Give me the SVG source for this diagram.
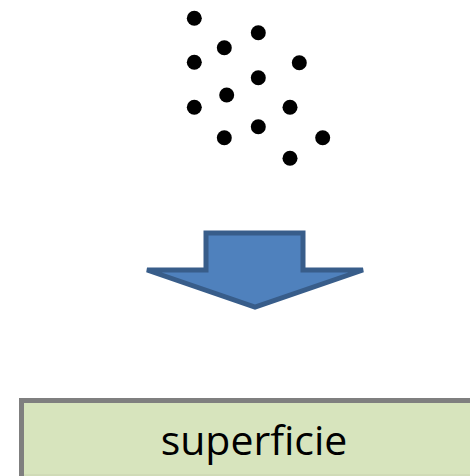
<svg xmlns="http://www.w3.org/2000/svg" width="470" height="476" viewBox="0 0 470 476">
  <style>
    .particle { fill: #000000; }
    .arrow { fill: #4F81BD; stroke: #385D8A; stroke-width: 5; stroke-linejoin: miter; }
    .surface { fill: #D7E4BD; stroke: #7F7F7F; stroke-width: 5; }
    .label { font-family: "Open Sans", "Liberation Sans", sans-serif; font-size: 41px; fill: #000000; }
  </style>
  <rect width="470" height="476" fill="#FFFFFF"/>

  <!-- scattered particles -->
  <g id="particles">
    <circle class="particle" cx="194.3" cy="18.3" r="7.5"/>
    <circle class="particle" cx="258.3" cy="32.7" r="7.5"/>
    <circle class="particle" cx="224.3" cy="47.7" r="7.5"/>
    <circle class="particle" cx="194.3" cy="62.3" r="7.5"/>
    <circle class="particle" cx="299.3" cy="62.7" r="7.5"/>
    <circle class="particle" cx="258.3" cy="77.7" r="7.5"/>
    <circle class="particle" cx="226.7" cy="95" r="7.5"/>
    <circle class="particle" cx="194.3" cy="107.3" r="7.5"/>
    <circle class="particle" cx="290" cy="107.3" r="7.5"/>
    <circle class="particle" cx="258.3" cy="126.7" r="7.5"/>
    <circle class="particle" cx="224.3" cy="137.7" r="7.5"/>
    <circle class="particle" cx="322.7" cy="137.7" r="7.5"/>
    <circle class="particle" cx="290" cy="158.3" r="7.5"/>
  </g>

  <!-- downward block arrow -->
  <g id="arrow">
    <path class="arrow" d="M206,233 L303,233 L303,270 L363,270 L255,307 L147,270 L206,270 Z"/>
  </g>

  <!-- surface box -->
  <g id="surface">
    <rect class="surface" x="21.5" y="400.5" width="460" height="90"/>
    <line x1="24" y1="475" x2="470" y2="475" stroke="#C8D2B0" stroke-width="1"/>
    <text class="label" x="254" y="455" text-anchor="middle">superficie</text>
  </g>
</svg>
